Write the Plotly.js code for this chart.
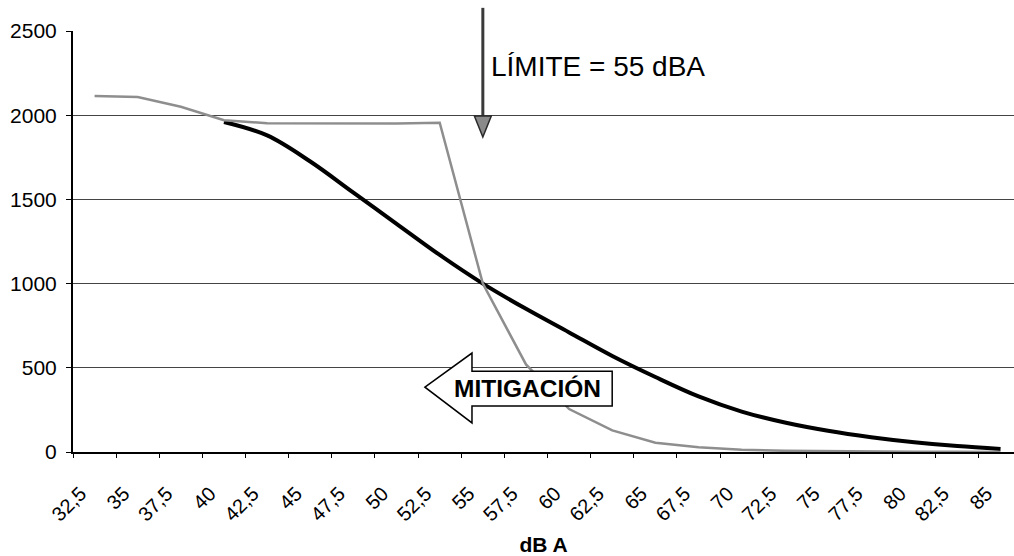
<!DOCTYPE html>
<html>
<head>
<meta charset="utf-8">
<script src="https://cdn.plot.ly/plotly-3.0.1.min.js"></script>
<style>html,body{margin:0;padding:0;background:#fff;}#chart{width:1014px;height:556px;}</style>
</head>
<body>
<div id="chart"></div>
<script>
// Categories (dB A)
const dBA = [32.5, 35, 37.5, 40, 42.5, 45, 47.5, 50, 52.5, 55, 57.5, 60, 62.5, 65, 67.5, 70, 72.5, 75, 77.5, 80, 82.5, 85];
const tickLabels = ["32,5","35","37,5","40","42,5","45","47,5","50","52,5","55","57,5","60","62,5","65","67,5","70","72,5","75","77,5","80","82,5","85"];
// Category boundaries (where the axis tick marks sit)
const boundaries = [31.25, 33.75, 36.25, 38.75, 41.25, 43.75, 46.25, 48.75, 51.25, 53.75, 56.25, 58.75, 61.25, 63.75, 66.25, 68.75, 71.25, 73.75, 76.25, 78.75, 81.25, 83.75];
// Series values
const serieNegra = [null, null, null, 1960, 1880, 1725, 1540, 1355, 1170, 1000, 850, 710, 570, 445, 330, 240, 175, 126, 88, 58, 35, 18];
const serieGris  = [2114, 2108, 2050, 1970, 1952, 1950, 1950, 1950, 1955, 1000, 520, 255, 128, 55, 28, 14, 7, 4, 2, 1, 1, 0];
const yTicks = [0, 500, 1000, 1500, 2000, 2500];

const FONT = "Liberation Sans, Arial, Helvetica, sans-serif";

const traces = [
  {x: dBA, y: serieNegra, type: 'scatter', mode: 'lines', name: 'Serie 1',
   line: {color: '#000000', width: 4, shape: 'spline', smoothing: 1}, connectgaps: false, hoverinfo: 'x+y'},
  {x: dBA, y: serieGris, type: 'scatter', mode: 'lines', name: 'Serie 2',
   line: {color: '#8e8e8e', width: 2.5}, hoverinfo: 'x+y'},
  {x: boundaries, y: boundaries.map(() => null), xaxis: 'x2', type: 'scatter', mode: 'lines', showlegend: false, hoverinfo: 'skip'}
];

const layout = {
  width: 1014, height: 556,
  margin: {l: 73, r: 0, t: 31, b: 104, pad: 0},
  paper_bgcolor: '#ffffff', plot_bgcolor: '#ffffff',
  showlegend: false,
  font: {family: FONT, color: '#000', size: 20},
  xaxis: {
    range: [31.25, 85.78], tickmode: 'array', tickvals: dBA, ticktext: tickLabels,
    tickangle: -45, ticks: '', showgrid: false, zeroline: false,
    showline: true, linecolor: '#000', linewidth: 2,
    tickfont: {family: FONT, size: 20, color: '#000'},
    ticklabelstandoff: 20, ticklabelshift: -14,
    title: {text: '<b>dB A</b>', font: {family: FONT, size: 21, color: '#000'}, standoff: 16},
    automargin: false
  },
  xaxis2: {
    overlaying: 'x', matches: 'x', side: 'bottom', anchor: 'y',
    tickmode: 'array', tickvals: boundaries, ticks: 'outside', ticklen: 5, tickwidth: 1, tickcolor: '#000',
    showticklabels: false, showgrid: false, zeroline: false, showline: false
  },
  yaxis: {
    range: [0, 2500], tickmode: 'array', tickvals: yTicks, ticks: 'outside', ticklen: 5, tickcolor: '#000',
    showgrid: true, gridcolor: '#444444', gridwidth: 1, zeroline: false,
    showline: true, linecolor: '#000', linewidth: 2,
    tickfont: {family: FONT, size: 21, color: '#000'}, ticklabelstandoff: 5, automargin: false
  },
  shapes: [
    // vertical "limit" arrow shaft at 55 dBA
    {type: 'line', xref: 'x', yref: 'paper', x0: 55, x1: 55, y0: 1.055, y1: 0.79,
     line: {color: '#3a3a3a', width: 3}, layer: 'above'},
    // arrow head
    {type: 'path', xref: 'x', yref: 'paper', path: 'M 54.51,0.798 L 55.49,0.798 L 55,0.748 Z',
     fillcolor: '#8a8a8a', line: {color: '#2a2a2a', width: 1.5}, layer: 'above'},
    // MITIGACIÓN block arrow
    {type: 'path', xref: 'paper', yref: 'paper',
     path: 'M 0.374,0.154 L 0.424,0.235 L 0.424,0.192 L 0.573,0.192 L 0.573,0.109 L 0.424,0.109 L 0.424,0.069 Z',
     fillcolor: '#ffffff', line: {color: '#000', width: 1.5}, layer: 'above'}
  ],
  annotations: [
    {xref: 'paper', yref: 'paper', x: 0.442, y: 0.9145, xanchor: 'left', yanchor: 'middle',
     text: 'LÍMITE = 55 dBA', showarrow: false, font: {family: FONT, size: 28, color: '#000'}},
    {xref: 'paper', yref: 'paper', x: 0.4825, y: 0.15, xanchor: 'center', yanchor: 'middle',
     text: '<b>MITIGACIÓN</b>', showarrow: false, font: {family: FONT, size: 24.5, color: '#000'}}
  ]
};

Plotly.newPlot('chart', traces, layout, {displayModeBar: false, staticPlot: true});
</script>
</body>
</html>
